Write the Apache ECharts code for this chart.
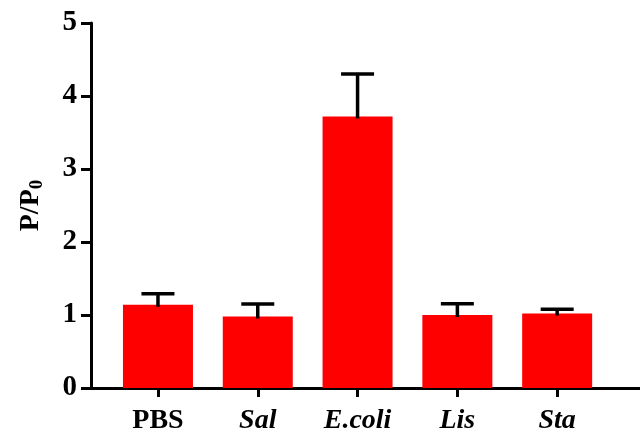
<!DOCTYPE html>
<html>
<head>
<meta charset="utf-8">
<script src="https://cdn.jsdelivr.net/npm/echarts@6/dist/echarts.min.js"></script>
<style>html,body{margin:0;padding:0;background:#fff}#c{width:640px;height:433px}</style>
</head>
<body>
<div id="c"></div>
<script>
const categories = ['PBS', 'Sal', 'E.coli', 'Lis', 'Sta'];
const italicCats = [false, true, true, true, true];
const means = [1.14, 0.98, 3.72, 1.00, 1.02];
const errors = [0.15, 0.17, 0.58, 0.155, 0.06];
const yTicks = [0, 1, 2, 3, 4, 5];

const positions = categories.map((c, i) => i);
const barData = means.map((m, i) => [i, m]);
const errData = means.map((m, i) => [i, m, errors[i]]);

const chart = echarts.init(document.getElementById('c'), null, {renderer: 'canvas'});
const FONT = 'Liberation Serif';
chart.setOption({
  animation: false,
  backgroundColor: '#fff',
  grid: {left: 91, right: 0, top: 23, bottom: 45, containLabel: false, outerBoundsMode: 'none'},
  xAxis: {
    type: 'value',
    min: -0.671,
    max: 4.83,
    axisLine: {show: true, onZero: false, lineStyle: {color: '#000', width: 3}},
    axisTick: {show: true, length: 9, customValues: positions, lineStyle: {color: '#000', width: 3}},
    splitLine: {show: false},
    axisLabel: {
      customValues: positions,
      margin: 19,
      formatter: v => {
        const i = Math.round(v);
        return (italicCats[i] ? '{i|' : '{n|') + categories[i] + '}';
      },
      rich: {
        n: {fontFamily: FONT, fontWeight: 'bold', fontSize: 28, color: '#000'},
        i: {fontFamily: FONT, fontWeight: 'bold', fontStyle: 'italic', fontSize: 28, color: '#000'}
      }
    }
  },
  yAxis: {
    type: 'value',
    min: yTicks[0],
    max: yTicks[yTicks.length - 1],
    interval: 1,
    name: '{a|P/P}{b|0}',
    nameLocation: 'middle',
    nameGap: 44,
    nameTextStyle: {
      rich: {
        a: {fontFamily: FONT, fontWeight: 'bold', fontSize: 28, color: '#000', lineHeight: 32},
        b: {fontFamily: FONT, fontWeight: 'bold', fontSize: 19, color: '#000', verticalAlign: 'bottom', lineHeight: 22, padding: [9, 0, 0, 0]}
      }
    },
    axisLine: {show: true, onZero: false, lineStyle: {color: '#000', width: 3}},
    axisTick: {show: true, length: 10, lineStyle: {color: '#000', width: 3}},
    splitLine: {show: false},
    axisLabel: {margin: 14, fontFamily: FONT, fontWeight: 'bold', fontSize: 29, color: '#000'}
  },
  series: [
    {
      type: 'bar',
      data: barData,
      barWidth: 70,
      itemStyle: {color: '#ff0000'},
      z: 2
    },
    {
      type: 'custom',
      data: errData,
      z: 3,
      renderItem: (params, api) => {
        const x = api.value(0), m = api.value(1), e = api.value(2);
        const top = api.coord([x, m + e]);
        const bot = api.coord([x, m]);
        const hw = 16.5;
        return {
          type: 'group',
          children: [
            {type: 'line', shape: {x1: top[0], y1: top[1], x2: bot[0], y2: bot[1] + 2}, style: {stroke: '#000', lineWidth: 3.5}},
            {type: 'line', shape: {x1: top[0] - hw, y1: top[1], x2: top[0] + hw, y2: top[1]}, style: {stroke: '#000', lineWidth: 3.5}}
          ]
        };
      }
    }
  ]
});
</script>
</body>
</html>
